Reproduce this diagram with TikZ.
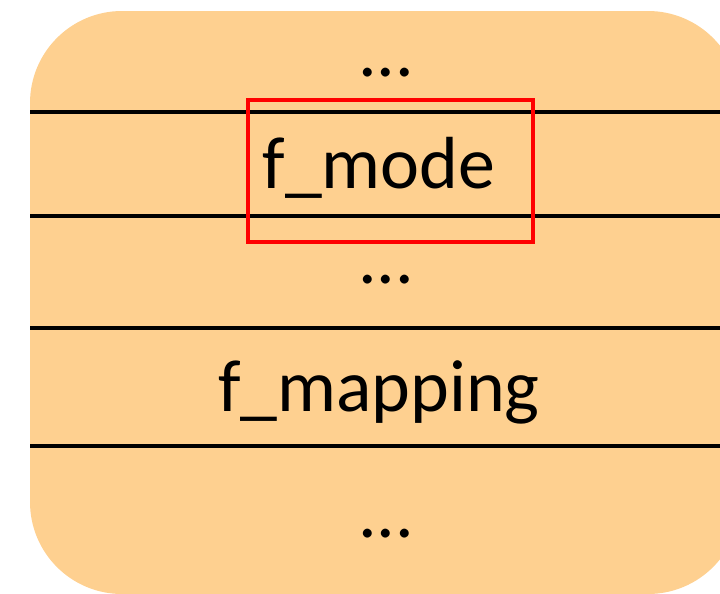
\documentclass[tikz,border=0pt]{standalone}
\usepackage{fontspec}
\setmainfont{Carlito}
\usepackage{tikz}
\definecolor{NaranjaClaro}{RGB}{254,208,144}
\definecolor{RojoMarca}{RGB}{255,0,0}

\begin{document}
\begin{tikzpicture}[x=0.025cm,y=-0.025cm,font=\fontsize{52.5}{60}\selectfont]
  \useasboundingbox (0,0) rectangle (720,593);
  \fill[NaranjaClaro,rounded corners=2.3cm] (30,11) rectangle (740,594);
  \draw[line width=3.3pt] (30,112) -- (720,112);
  \draw[line width=3.3pt] (30,216) -- (720,216);
  \draw[line width=3.3pt] (30,328) -- (720,328);
  \draw[line width=3.3pt] (30,446) -- (720,446);
  \node[anchor=base] (puntosA) at (386,76) {...};
  \node[anchor=base] (modo) at (379,188) {f\_mode};
  \node[anchor=base] (puntosB) at (386,283) {...};
  \node[anchor=base] (mapeo) at (379,411) {f\_mapping};
  \node[anchor=base] (puntosC) at (386,537) {...};
  \draw[RojoMarca,line width=3pt] (248,100) rectangle (533,242);
\end{tikzpicture}
\end{document}
